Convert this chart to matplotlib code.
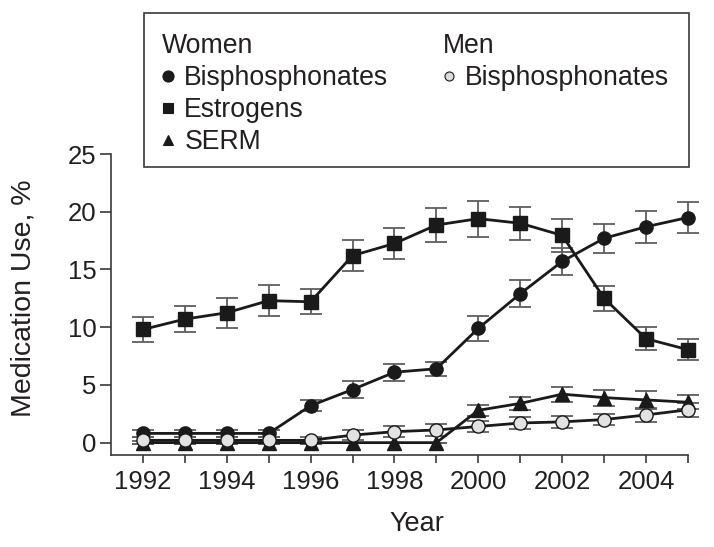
import matplotlib
matplotlib.use("Agg")
import matplotlib.pyplot as plt
from matplotlib.lines import Line2D
from matplotlib.patches import Rectangle

# --- data ---
years = list(range(1992, 2006))

women_bis = [0.8, 0.8, 0.8, 0.8, 3.2, 4.6, 6.1, 6.4, 9.9, 12.9, 15.7, 17.7, 18.7, 19.5]
women_bis_err = [0.3, 0.3, 0.3, 0.3, 0.5, 0.7, 0.75, 0.6, 1.1, 1.15, 1.2, 1.25, 1.4, 1.35]

estrogens = [9.8, 10.7, 11.25, 12.3, 12.2, 16.2, 17.25, 18.85, 19.4, 19.0, 17.95, 12.5, 9.0, 8.05]
estrogens_err = [1.05, 1.1, 1.3, 1.35, 1.1, 1.35, 1.35, 1.5, 1.55, 1.45, 1.4, 1.1, 1.0, 0.9]

serm = [0, 0, 0, 0, 0, 0, 0, 0, 2.8, 3.4, 4.2, 3.9, 3.7, 3.5]
serm_err = [0.15, 0.15, 0.15, 0.15, 0.15, 0, 0, 0, 0.5, 0.55, 0.65, 0.7, 0.75, 0.6]

men_bis = [0.2, 0.2, 0.2, 0.2, 0.2, 0.65, 0.95, 1.1, 1.4, 1.7, 1.8, 2.0, 2.4, 2.85]
men_bis_err = [0.3, 0.3, 0.3, 0.3, 0.3, 0.45, 0.45, 0.5, 0.5, 0.55, 0.5, 0.5, 0.6, 0.6]

yticks = [0, 5, 10, 15, 20, 25]
xticks = list(range(1992, 2006))
xticklabels = [str(y) if y % 2 == 0 else "" for y in xticks]

# --- style ---
TXT = "#231f20"
plt.rcParams["font.family"] = ["Liberation Sans", "DejaVu Sans"]
plt.rcParams["text.color"] = TXT
FS_TICK = 18.5
FS_LAB = 19.5
FS_LEG = 19.2

fig = plt.figure(figsize=(7.14, 5.47), dpi=100)
ax = fig.add_axes([111 / 714, 1 - 455 / 547, (688 - 111) / 714, (455 - 154) / 547])

series = [
    (estrogens, estrogens_err, "s", "#1a1a1a"),
    (women_bis, women_bis_err, "o", "#1a1a1a"),
    (serm, serm_err, "^", "#1a1a1a"),
    (men_bis, men_bis_err, "o", "#e2e2e2"),
]

for vals, err, mk, fc in series:
    eb = ax.errorbar(years, vals, yerr=err, fmt="none", ecolor="#5e5e5e",
                     elinewidth=1.3, capsize=8, capthick=1.3, zorder=2)
    for art in eb.lines[1]:
        art.set_clip_on(False)
    for art in eb.lines[2]:
        art.set_clip_on(False)
    ax.plot(years, vals, color="#1a1a1a", lw=2, marker=mk, markersize=9.5,
            markerfacecolor=fc, markeredgecolor="#1a1a1a", markeredgewidth=1,
            zorder=3, clip_on=False)

ax.set_xlim(1991.24, 2005)
ax.set_ylim(-1.07, 25)
ax.set_xticks(xticks)
ax.set_xticklabels(xticklabels)
ax.set_yticks(yticks)

for s in ["top", "right"]:
    ax.spines[s].set_visible(False)
for s in ["left", "bottom"]:
    ax.spines[s].set_color("#3a3a3a")
    ax.spines[s].set_linewidth(1.2)
ax.tick_params(axis="both", direction="out", width=1.2, color="#3a3a3a",
               labelsize=FS_TICK, labelcolor=TXT)
ax.tick_params(axis="x", length=6, pad=4.5)
ax.tick_params(axis="y", length=8, pad=2.5)

ax.set_xlabel("Year", fontsize=FS_LAB, color=TXT)
ax.xaxis.set_label_coords((416.7 - 111) / 577, (455 - 511) / 301)
ax.set_ylabel("Medication Use, %", fontsize=20.5, color=TXT)
ax.yaxis.set_label_coords((37 - 111) / 577, (455 - 298) / 301)

# --- legend box ---
fig.add_artist(Rectangle((144 / 714, 1 - 167 / 547), (689 - 144) / 714, 154 / 547,
                         transform=fig.transFigure, facecolor="white",
                         edgecolor="#3a3a3a", linewidth=1.2, zorder=5))

def h(mk, fc, ms):
    return Line2D([], [], linestyle="none", marker=mk, markersize=ms,
                  markerfacecolor=fc, markeredgecolor="#1a1a1a", markeredgewidth=0.8)

leg_kw = dict(loc="upper left", frameon=False, fontsize=FS_LEG, title_fontsize=FS_LEG,
              handlelength=0.5, handletextpad=0.35, labelspacing=0.225,
              borderpad=0, borderaxespad=0, alignment="left")

women_leg = fig.legend([h("o", "#1a1a1a", 8), h("s", "#1a1a1a", 7.5), h("^", "#1a1a1a", 7.5)],
                       ["Bisphosphonates", "Estrogens", "SERM"], title="Women",
                       bbox_to_anchor=(161.6 / 714, 1 - 33 / 547), **leg_kw)
women_leg.set_zorder(6)
men_leg = fig.legend([h("o", "#dcdcdc", 6.5)], ["Bisphosphonates"], title="Men",
                     bbox_to_anchor=(442.7 / 714, 1 - 33 / 547), **leg_kw)
men_leg.set_zorder(6)

fig.savefig("out.png", dpi=100)
